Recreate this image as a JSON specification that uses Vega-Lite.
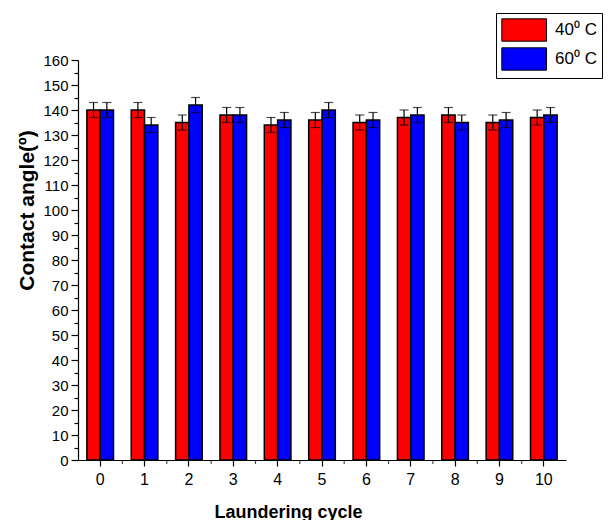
{
  "$schema": "https://vega.github.io/schema/vega-lite/v6.json",
  "width": 488,
  "height": 400,
  "autosize": {"type": "none"},
  "padding": {"left": 78, "top": 60, "right": 42, "bottom": 60},
  "background": "white",
  "config": {
    "view": {"stroke": null},
    "font": "Liberation Sans",
    "axis": {
      "labelFont": "Liberation Sans",
      "titleFont": "Liberation Sans",
      "labelFontSize": 15,
      "labelColor": "black",
      "titleFontWeight": "bold",
      "titleColor": "black",
      "domainColor": "black",
      "tickColor": "black",
      "domainWidth": 1.2,
      "tickWidth": 1.2,
      "grid": false
    },
    "legend": {
      "labelFont": "Liberation Sans",
      "labelFontSize": 17,
      "labelColor": "black"
    }
  },
  "data": {
    "values": [
      {"cycle": 0, "temp": "40", "angle": 140, "lo": 137, "hi": 143},
      {"cycle": 0, "temp": "60", "angle": 140, "lo": 137, "hi": 143},
      {"cycle": 1, "temp": "40", "angle": 140, "lo": 137, "hi": 143},
      {"cycle": 1, "temp": "60", "angle": 134, "lo": 131, "hi": 137},
      {"cycle": 2, "temp": "40", "angle": 135, "lo": 132, "hi": 138},
      {"cycle": 2, "temp": "60", "angle": 142, "lo": 139, "hi": 145},
      {"cycle": 3, "temp": "40", "angle": 138, "lo": 135, "hi": 141},
      {"cycle": 3, "temp": "60", "angle": 138, "lo": 135, "hi": 141},
      {"cycle": 4, "temp": "40", "angle": 134, "lo": 131, "hi": 137},
      {"cycle": 4, "temp": "60", "angle": 136, "lo": 133, "hi": 139},
      {"cycle": 5, "temp": "40", "angle": 136, "lo": 133, "hi": 139},
      {"cycle": 5, "temp": "60", "angle": 140, "lo": 137, "hi": 143},
      {"cycle": 6, "temp": "40", "angle": 135, "lo": 132, "hi": 138},
      {"cycle": 6, "temp": "60", "angle": 136, "lo": 133, "hi": 139},
      {"cycle": 7, "temp": "40", "angle": 137, "lo": 134, "hi": 140},
      {"cycle": 7, "temp": "60", "angle": 138, "lo": 135, "hi": 141},
      {"cycle": 8, "temp": "40", "angle": 138, "lo": 135, "hi": 141},
      {"cycle": 8, "temp": "60", "angle": 135, "lo": 132, "hi": 138},
      {"cycle": 9, "temp": "40", "angle": 135, "lo": 132, "hi": 138},
      {"cycle": 9, "temp": "60", "angle": 136, "lo": 133, "hi": 139},
      {"cycle": 10, "temp": "40", "angle": 137, "lo": 134, "hi": 140},
      {"cycle": 10, "temp": "60", "angle": 138, "lo": 135, "hi": 141}
    ]
  },
  "layer": [
    {
      "mark": {"type": "bar", "stroke": "black", "strokeWidth": 1.5},
      "encoding": {
        "x": {
          "field": "cycle",
          "type": "ordinal",
          "scale": {"paddingInner": 0.4, "paddingOuter": 0.2},
          "axis": {
            "title": "Laundering cycle",
            "titleFontSize": 18,
            "labelFontSize": 16,
            "labelAngle": 0,
            "tickSize": 6,
            "labelPadding": 5,
            "titleX": 210,
            "titlePadding": 16
          }
        },
        "xOffset": {
          "field": "temp",
          "type": "nominal",
          "scale": {"domain": ["40", "60"], "paddingInner": 0, "paddingOuter": 0}
        },
        "y": {
          "field": "angle",
          "type": "quantitative",
          "scale": {"domain": [0, 160], "nice": false},
          "axis": {
            "title": "Contact angle(º)",
            "titleFontSize": 21,
            "titleY": 150,
            "values": [0,5,10,15,20,25,30,35,40,45,50,55,60,65,70,75,80,85,90,95,100,105,110,115,120,125,130,135,140,145,150,155,160],
            "labelExpr": "datum.value % 10 === 0 ? datum.label : ''",
            "labelOverlap": false,
            "tickSize": {"condition": {"test": "datum.value % 10 === 0", "value": 7}, "value": 4},
            "labelPadding": 3,
            "titlePadding": 5
          }
        },
        "color": {
          "field": "temp",
          "type": "nominal",
          "scale": {"domain": ["40", "60"], "range": ["#ff0000", "#0000ff"]},
          "legend": {
            "title": null,
            "orient": "none",
            "legendX": 418,
            "legendY": -47,
            "symbolType": "M-1,-1H3V1H-1Z",
            "symbolSize": 500,
            "symbolStrokeColor": "black",
            "symbolStrokeWidth": 1,
            "symbolOpacity": 1,
            "rowPadding": 1,
            "labelOffset": 30,
            "strokeColor": "black",
            "fillColor": "white",
            "padding": 5,
            "labelExpr": "datum.label + '⁰ C'"
          }
        }
      }
    },
    {
      "mark": {"type": "rule", "color": "black", "strokeWidth": 1.2},
      "encoding": {
        "x": {"field": "cycle", "type": "ordinal"},
        "xOffset": {"field": "temp", "type": "nominal"},
        "y": {
          "field": "lo",
          "type": "quantitative",
          "axis": {
            "title": "Contact angle(º)",
            "titleFontSize": 21,
            "titleY": 150,
            "values": [0,5,10,15,20,25,30,35,40,45,50,55,60,65,70,75,80,85,90,95,100,105,110,115,120,125,130,135,140,145,150,155,160],
            "labelExpr": "datum.value % 10 === 0 ? datum.label : ''",
            "labelOverlap": false,
            "tickSize": {"condition": {"test": "datum.value % 10 === 0", "value": 7}, "value": 4},
            "labelPadding": 3,
            "titlePadding": 5
          }
        },
        "y2": {"field": "hi"}
      }
    },
    {
      "mark": {"type": "tick", "color": "black", "size": 9, "thickness": 1.2},
      "encoding": {
        "x": {"field": "cycle", "type": "ordinal"},
        "xOffset": {"field": "temp", "type": "nominal"},
        "y": {
          "field": "lo",
          "type": "quantitative",
          "axis": {
            "title": "Contact angle(º)",
            "titleFontSize": 21,
            "titleY": 150,
            "values": [0,5,10,15,20,25,30,35,40,45,50,55,60,65,70,75,80,85,90,95,100,105,110,115,120,125,130,135,140,145,150,155,160],
            "labelExpr": "datum.value % 10 === 0 ? datum.label : ''",
            "labelOverlap": false,
            "tickSize": {"condition": {"test": "datum.value % 10 === 0", "value": 7}, "value": 4},
            "labelPadding": 3,
            "titlePadding": 5
          }
        }
      }
    },
    {
      "mark": {"type": "tick", "color": "black", "size": 9, "thickness": 1.2},
      "encoding": {
        "x": {"field": "cycle", "type": "ordinal"},
        "xOffset": {"field": "temp", "type": "nominal"},
        "y": {
          "field": "hi",
          "type": "quantitative",
          "axis": {
            "title": "Contact angle(º)",
            "titleFontSize": 21,
            "titleY": 150,
            "values": [0,5,10,15,20,25,30,35,40,45,50,55,60,65,70,75,80,85,90,95,100,105,110,115,120,125,130,135,140,145,150,155,160],
            "labelExpr": "datum.value % 10 === 0 ? datum.label : ''",
            "labelOverlap": false,
            "tickSize": {"condition": {"test": "datum.value % 10 === 0", "value": 7}, "value": 4},
            "labelPadding": 3,
            "titlePadding": 5
          }
        }
      }
    },
    {
      "transform": [{"filter": "datum.temp === '40' && datum.cycle < 10"}],
      "mark": {"type": "tick", "color": "black", "orient": "vertical", "size": 4, "thickness": 1.2, "yOffset": 2, "xOffset": 22.2},
      "encoding": {
        "x": {"field": "cycle", "type": "ordinal"},
        "y": {
          "datum": 0,
          "type": "quantitative",
          "axis": {
            "title": "Contact angle(º)",
            "titleFontSize": 21,
            "titleY": 150,
            "values": [0,5,10,15,20,25,30,35,40,45,50,55,60,65,70,75,80,85,90,95,100,105,110,115,120,125,130,135,140,145,150,155,160],
            "labelExpr": "datum.value % 10 === 0 ? datum.label : ''",
            "labelOverlap": false,
            "tickSize": {"condition": {"test": "datum.value % 10 === 0", "value": 7}, "value": 4},
            "labelPadding": 3,
            "titlePadding": 5
          }
        }
      }
    }
  ]
}
